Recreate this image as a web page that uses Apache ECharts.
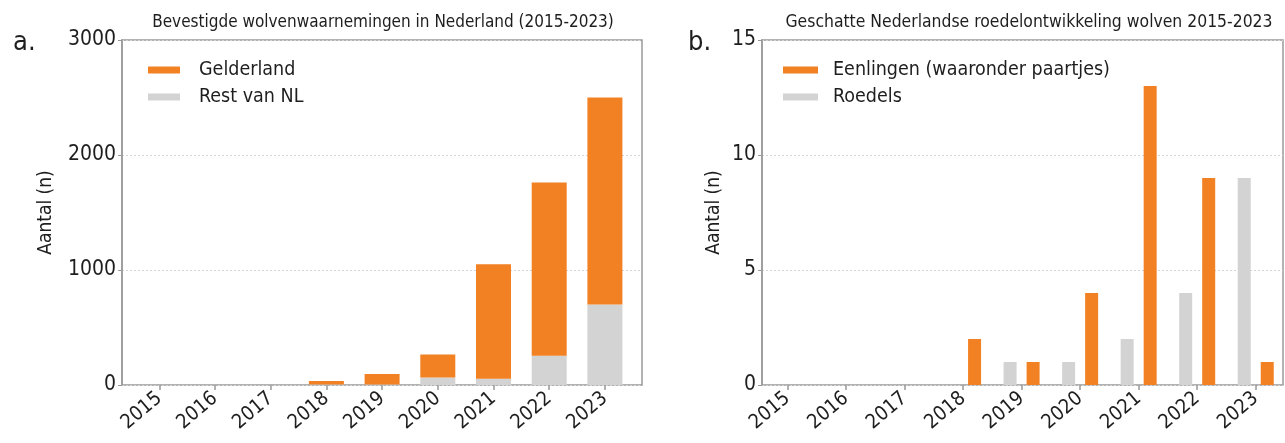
<!DOCTYPE html>
<html>
<head>
<meta charset="utf-8">
<script src="https://cdn.jsdelivr.net/npm/echarts@6/dist/echarts.min.js"></script>
<style>
  html, body { margin: 0; padding: 0; background: #fff; }
  #chart { width: 1285px; height: 443px; }
</style>
</head>
<body>
<div id="chart"></div>
<script>
// Years shown on both panels
const years = ['2015', '2016', '2017', '2018', '2019', '2020', '2021', '2022', '2023'];

// Panel a: confirmed wolf observations (stacked)
const gelderland = [0, 0, 0, 30, 90, 200, 995, 1505, 1800];
const restVanNL  = [0, 0, 0, 5, 5, 65, 55, 255, 700];

// Panel b: estimated pack development
const eenlingen = [0, 0, 0, 2, 1, 4, 13, 9, 1];
const roedels   = [0, 0, 0, 0, 1, 1, 2, 4, 9];

const ticksA = { min: 0, max: 3000, interval: 1000 };
const ticksB = { min: 0, max: 15, interval: 5 };

const ORANGE = '#F28123';
const GREY = '#D3D3D3';
const FONT = '"DejaVu Sans Condensed", "DejaVu Sans", sans-serif';
const TXT = '#1e1e1e';

const chart = echarts.init(document.getElementById('chart'), null, { renderer: 'canvas' });

function frameYAxis(gridIndex, t, name, gap) {
  return {
    type: 'value', gridIndex, min: t.min, max: t.max, interval: t.interval,
    name, nameLocation: 'middle', nameGap: gap,
    nameTextStyle: { fontFamily: FONT, fontSize: 19, color: TXT },
    axisLine: { show: true, lineStyle: { color: '#999', width: 1.5 } },
    axisTick: { show: true, length: 4, lineStyle: { color: '#999' } },
    axisLabel: { fontFamily: FONT, fontSize: 21, color: TXT, margin: 6, formatter: v => String(v) },
    splitLine: { show: true, lineStyle: { color: '#d4d4d4', type: [2, 2], width: 1 } }
  };
}
function hiddenY(gridIndex, t) {
  return { type: 'value', gridIndex, min: t.min, max: t.max, show: false, splitLine: { show: false } };
}
function frameX(gridIndex) {
  return { type: 'value', gridIndex, min: 0, max: 1, show: false, splitLine: { show: false } };
}
function catX(gridIndex) {
  return {
    type: 'category', gridIndex, data: years,
    axisLine: { show: false },
    axisTick: { show: true, alignWithLabel: true, length: 5, lineStyle: { color: '#999', width: 1.5 } },
    axisLabel: { fontFamily: FONT, fontSize: 20, color: TXT, rotate: 40, margin: 11, interval: 0 }
  };
}

const option = {
  animation: false,
  backgroundColor: '#fff',
  title: [
    { text: 'Bevestigde wolvenwaarnemingen in Nederland (2015-2023)', left: 378, top: 9, textAlign: 'center',
      textStyle: { fontFamily: FONT, fontSize: 17, fontWeight: 'normal', color: TXT } },
    { text: 'Geschatte Nederlandse roedelontwikkeling wolven 2015-2023', left: 1024, top: 9, textAlign: 'center',
      textStyle: { fontFamily: FONT, fontSize: 17.4, fontWeight: 'normal', color: TXT } },
    { text: 'a.', left: 8, top: 24, textStyle: { fontFamily: FONT, fontSize: 27, fontWeight: 'normal', color: TXT } },
    { text: 'b.', left: 683, top: 24, textStyle: { fontFamily: FONT, fontSize: 27, fontWeight: 'normal', color: TXT } }
  ],
  legend: [
    { data: ['Gelderland', 'Rest van NL'], orient: 'vertical', left: 143, top: 55,
      icon: 'rect', itemWidth: 32, itemHeight: 7, itemGap: 7,
      textStyle: { fontFamily: FONT, fontSize: 19.5, color: TXT, padding: [0, 0, 0, 14], lineHeight: 20 } },
    { data: ['Eenlingen (waaronder paartjes)', 'Roedels'], orient: 'vertical', left: 778, top: 55,
      icon: 'rect', itemWidth: 35, itemHeight: 7, itemGap: 7,
      textStyle: { fontFamily: FONT, fontSize: 19.5, color: TXT, padding: [0, 0, 0, 10], lineHeight: 20 } }
  ],
  grid: [
    // frames
    { left: 122, top: 40, width: 520, height: 345, show: true, borderColor: '#999', borderWidth: 1.5, backgroundColor: 'transparent' },
    { left: 762, top: 40, width: 521, height: 345, show: true, borderColor: '#999', borderWidth: 1.5, backgroundColor: 'transparent' },
    // category areas
    { left: 131.45, top: 40, width: 501.3, height: 345 },
    { left: 758.2, top: 40, width: 531, height: 345 }
  ],
  xAxis: [frameX(0), frameX(1), catX(2), catX(3)],
  yAxis: [frameYAxis(0, ticksA, 'Aantal (n)', 66), frameYAxis(1, ticksB, 'Aantal (n)', 38), hiddenY(2, ticksA), hiddenY(3, ticksB)],
  series: [
    { name: 'Rest van NL', type: 'bar', xAxisIndex: 2, yAxisIndex: 2, stack: 'a', data: restVanNL,
      barWidth: 35, itemStyle: { color: GREY } },
    { name: 'Gelderland', type: 'bar', xAxisIndex: 2, yAxisIndex: 2, stack: 'a', data: gelderland,
      barWidth: 35, itemStyle: { color: ORANGE } },
    { name: 'Roedels', type: 'bar', xAxisIndex: 3, yAxisIndex: 3, data: roedels,
      barWidth: 13, barGap: '77%', itemStyle: { color: GREY } },
    { name: 'Eenlingen (waaronder paartjes)', type: 'bar', xAxisIndex: 3, yAxisIndex: 3, data: eenlingen,
      barWidth: 13, barGap: '77%', itemStyle: { color: ORANGE } }
  ]
};
chart.setOption(option);
</script>
</body>
</html>
